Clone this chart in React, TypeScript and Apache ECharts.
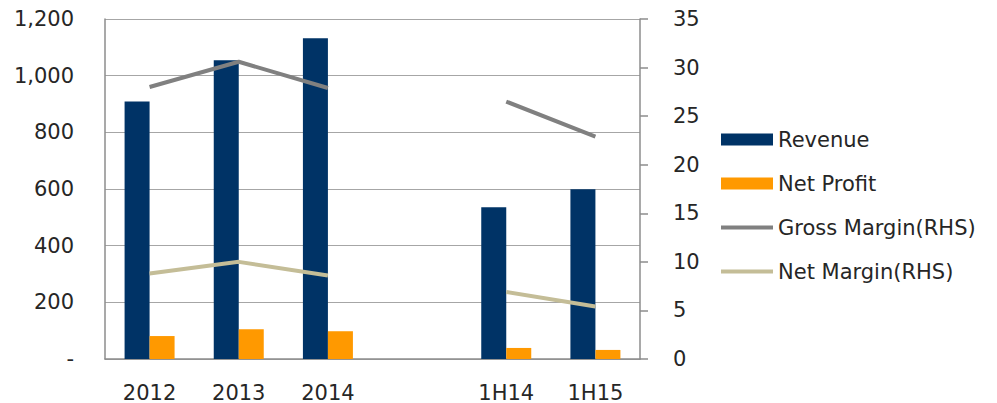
import React, { useEffect, useRef } from "react";
import * as echarts from "echarts";

// Periods shown on the category axis; the empty slot separates full years from half years
const categories = ["2012", "2013", "2014", "", "1H14", "1H15"];

// Left axis values
const revenue = [909, 1054, 1132, null, 536, 599];
const netProfit = [81, 105, 98, null, 39, 32];

// Right axis values (%)
const grossMargin = [28.0, 30.6, 27.9, null, 26.5, 22.9];
const netMargin = [8.8, 10.0, 8.6, null, 6.9, 5.4];

const FONT = "'DejaVu Sans', Verdana, sans-serif";
const TEXT = "#262626";
const LINE_ICON = "path://M0,0 H52 V4 H0 Z";

export default function App() {
  const ref = useRef<HTMLDivElement>(null);

  useEffect(() => {
    if (!ref.current) return;
    const chart = echarts.init(ref.current, undefined, { renderer: "svg" });
    chart.setOption({
      animation: false,
      backgroundColor: "#ffffff",
      textStyle: { fontFamily: FONT },
      grid: { left: 105, top: 19, width: 535, height: 340 },
      legend: {
        orient: "vertical",
        left: 721,
        top: 129,
        padding: 0,
        itemWidth: 52,
        itemHeight: 12,
        itemGap: 23,
        textStyle: { fontFamily: FONT, fontSize: 21, color: TEXT },
        data: [
          { name: "Revenue", icon: "rect" },
          { name: "Net Profit", icon: "rect" },
          { name: "Gross Margin(RHS)", icon: LINE_ICON },
          { name: "Net Margin(RHS)", icon: LINE_ICON },
        ],
      },
      xAxis: {
        type: "category",
        data: categories,
        axisLine: { show: true, lineStyle: { color: "#8c8c8c", width: 1.5 } },
        axisTick: { show: false },
        axisLabel: { color: TEXT, fontSize: 21, fontFamily: FONT, margin: 23 },
      },
      yAxis: [
        {
          type: "value",
          min: 0,
          max: 1200,
          interval: 200,
          axisLine: { show: true, lineStyle: { color: "#8c8c8c", width: 1.5 } },
          axisTick: { show: false },
          splitLine: { show: true, lineStyle: { color: "#a6a6a6", width: 1.2 } },
          axisLabel: {
            color: TEXT,
            fontSize: 21,
            fontFamily: FONT,
            margin: 31,
            formatter: (v: number) => (v === 0 ? "-" : v.toLocaleString("en-US")),
          },
        },
        {
          type: "value",
          min: 0,
          max: 35,
          interval: 5,
          position: "right",
          axisLine: { show: true, lineStyle: { color: "#8c8c8c", width: 1.5 } },
          axisTick: { show: true, length: 8, lineStyle: { color: "#8c8c8c", width: 1.5 } },
          splitLine: { show: false },
          axisLabel: { color: TEXT, fontSize: 21, fontFamily: FONT, margin: 33 },
        },
      ],
      series: [
        {
          name: "Revenue",
          type: "bar",
          data: revenue,
          barWidth: 25,
          barGap: "0%",
          itemStyle: { color: "#003366" },
        },
        {
          name: "Net Profit",
          type: "bar",
          data: netProfit,
          barWidth: 25,
          barGap: "0%",
          itemStyle: { color: "#ff9900" },
        },
        {
          name: "Gross Margin(RHS)",
          type: "line",
          yAxisIndex: 1,
          data: grossMargin,
          symbol: "none",
          connectNulls: false,
          lineStyle: { color: "#808080", width: 4 },
          itemStyle: { color: "#808080" },
        },
        {
          name: "Net Margin(RHS)",
          type: "line",
          yAxisIndex: 1,
          data: netMargin,
          symbol: "none",
          connectNulls: false,
          lineStyle: { color: "#c4bd97", width: 4 },
          itemStyle: { color: "#c4bd97" },
        },
      ],
    });
    return () => chart.dispose();
  }, []);

  return (
    <div
      ref={ref}
      style={{ position: "fixed", left: 0, top: 0, width: 997, height: 403 }}
    />
  );
}
